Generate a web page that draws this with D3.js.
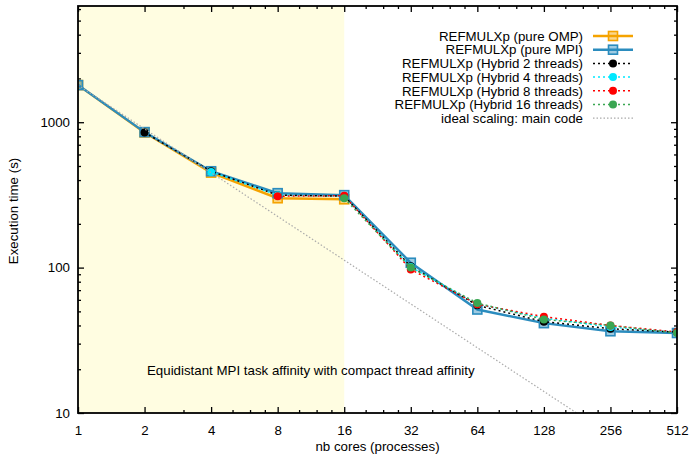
<!DOCTYPE html>
<html>
<head>
<meta charset="utf-8">
<script src="https://cdn.jsdelivr.net/npm/d3@7"></script>
<style>
  body { margin: 0; background: #fff; }
  text { font-family: "Liberation Sans", Arial, Helvetica, sans-serif; }
</style>
</head>
<body>
<div id="viz"></div>
<script>
// nb cores (processes)
var cores = [1, 2, 4, 8, 16, 32, 64, 128, 256, 512];
var xTickLabels = ['1', '2', '4', '8', '16', '32', '64', '128', '256', '512'];
var yTickValues = [10, 100, 1000];

// execution time (s)
var pureOMP   = [1800, 850, 450, 300, 295];
var pureMPI   = [1800, 855, 460, 325, 315, 108, 51.5, 41.5, 36.5, 35.5];
var hybrid2   = [850, 460, 315, 310, 102, 55, 42.5, 38, 36];      // from 2 cores
var hybrid4   = [455, 315, 310, 101, 56, 45, 39, 36];             // from 4 cores
var hybrid8   = [310, 312, 97, 56, 46, 40, 36];                   // from 8 cores
var hybrid16  = [300, 100, 57, 44, 40, 35.5];                     // from 16 cores
var idealBase = 1800;

var series = [
    { name: 'REFMULXp (pure OMP)', x: cores.slice(0, 5), y: pureOMP, color: '#f5a300', kind: 'square' },
    { name: 'REFMULXp (pure MPI)', x: cores, y: pureMPI, color: '#2b8cbe', kind: 'square' },
    { name: 'REFMULXp (Hybrid 2 threads)', x: cores.slice(1), y: hybrid2, color: '#000000', kind: 'dot' },
    { name: 'REFMULXp (Hybrid 4 threads)', x: cores.slice(2), y: hybrid4, color: '#00e8ff', kind: 'dot' },
    { name: 'REFMULXp (Hybrid 8 threads)', x: cores.slice(3), y: hybrid8, color: '#ff0000', kind: 'dot' },
    { name: 'REFMULXp (Hybrid 16 threads)', x: cores.slice(4), y: hybrid16, color: '#3aa652', kind: 'dot' },
    { name: 'ideal scaling: main code', x: cores, y: cores.map(function(c) { return idealBase / c }), color: '#aaaaaa', kind: 'ideal' }
];

var width = 693,
    height = 456,
    margin = { top: 6, right: 16, bottom: 43, left: 78 },
    plotW = width - margin.left - margin.right,
    plotH = height - margin.top - margin.bottom,
    fontSize = '13.3px';

var x = d3.scaleLog().base(2).domain([1, 512]).range([0, plotW]);
var y = d3.scaleLog().domain([10, 6300]).range([plotH, 0]);

var svg = d3.select('#viz').append('svg')
    .attr('width', width)
    .attr('height', height);

var g = svg.append('g')
    .attr('transform', 'translate(' + margin.left + ',' + margin.top + ')');

// shaded region 1..16 cores
g.append('rect')
    .attr('x', x(1))
    .attr('y', 0)
    .attr('width', x(16) - x(1))
    .attr('height', plotH)
    .attr('fill', '#fffde1');

// minor ticks
var xMinor = [];
cores.slice(0, -1).forEach(function(a) {
    var step = a >= 4 ? a / 4 : a / 2;
    if (a === 1) return;
    for (var v = a + step; v < 2 * a; v += step) xMinor.push(v);
});
var yMinor = [];
[10, 100, 1000].forEach(function(d) {
    for (var k = 2; k <= 9; k++) if (d * k < 6300) yMinor.push(d * k);
});

function axisGroup(axis, tx, ty) {
    var a = g.append('g')
        .attr('transform', 'translate(' + tx + ',' + ty + ')')
        .call(axis);
    a.select('.domain').remove();
    a.selectAll('line').attr('stroke', '#000').attr('stroke-width', 1.3);
    a.selectAll('text')
        .attr('fill', '#000')
        .style('font-size', fontSize);
    return a;
}

axisGroup(d3.axisBottom(x).tickValues(cores).tickFormat(function(d, i) { return xTickLabels[i] })
    .tickSize(-6).tickPadding(13), 0, plotH);
axisGroup(d3.axisBottom(x).tickValues(xMinor).tickFormat('').tickSize(-3), 0, plotH);
axisGroup(d3.axisTop(x).tickValues(cores).tickFormat('').tickSize(-6), 0, 0);
axisGroup(d3.axisTop(x).tickValues(xMinor).tickFormat('').tickSize(-3), 0, 0);

axisGroup(d3.axisLeft(y).tickValues(yTickValues).tickFormat(d3.format('d'))
    .tickSize(-6).tickPadding(8), 0, 0);
axisGroup(d3.axisLeft(y).tickValues(yMinor).tickFormat('').tickSize(-3), 0, 0);
axisGroup(d3.axisRight(y).tickValues(yTickValues).tickFormat('').tickSize(-6), plotW, 0);
axisGroup(d3.axisRight(y).tickValues(yMinor).tickFormat('').tickSize(-3), plotW, 0);

// annotation
g.append('text')
    .attr('x', 147 - margin.left)
    .attr('y', 375 - margin.top)
    .style('font-size', fontSize)
    .text('Equidistant MPI task affinity with compact thread affinity');

// series
var clip = svg.append('clipPath').attr('id', 'plotclip')
    .append('rect').attr('width', plotW).attr('height', plotH);

var line = d3.line()
    .x(function(d) { return x(d[0]) })
    .y(function(d) { return y(d[1]) });

function styleLine(sel, s) {
    sel.attr('fill', 'none').attr('stroke', s.color);
    if (s.kind === 'square') sel.attr('stroke-width', 2.4);
    else if (s.kind === 'dot') sel.attr('stroke-width', 1.5).attr('stroke-dasharray', '2,3');
    else sel.attr('stroke-width', 1.2).attr('stroke-dasharray', '1.5,2');
}

function drawMarker(sel, s, cx, cy) {
    if (s.kind === 'square') {
        sel.append('rect')
            .attr('x', cx - 4.5).attr('y', cy - 4.5)
            .attr('width', 9).attr('height', 9)
            .attr('fill', s.color).attr('fill-opacity', 0.45)
            .attr('stroke', s.color).attr('stroke-width', 1.6);
    } else if (s.kind === 'dot') {
        sel.append('circle')
            .attr('cx', cx).attr('cy', cy).attr('r', 4)
            .attr('fill', s.color);
    }
}

series.forEach(function(s) {
    var pts = s.x.map(function(c, i) { return [c, s.y[i]] });
    var sg = g.append('g').attr('clip-path', 'url(#plotclip)');
    sg.append('path').datum(pts).attr('d', line).call(styleLine, s);
    if (s.kind !== 'ideal') {
        pts.forEach(function(p) { drawMarker(sg, s, x(p[0]), y(p[1])) });
    }
});

// frame
g.append('rect')
    .attr('width', plotW)
    .attr('height', plotH)
    .attr('fill', 'none')
    .attr('stroke', '#000')
    .attr('stroke-width', 1.8);

// legend
var legend = g.append('g');
series.forEach(function(s, i) {
    var ly = 36 - margin.top + i * 13.7;
    legend.append('text')
        .attr('x', 583 - margin.left)
        .attr('y', ly + 4.7)
        .attr('text-anchor', 'end')
        .style('font-size', fontSize)
        .text(s.name);
    legend.append('line')
        .attr('x1', 593 - margin.left).attr('x2', 633 - margin.left)
        .attr('y1', ly).attr('y2', ly)
        .call(styleLine, s);
    drawMarker(legend, s, 613 - margin.left, ly);
});

// axis titles
svg.append('text')
    .attr('x', margin.left + plotW / 2)
    .attr('y', 451)
    .attr('text-anchor', 'middle')
    .style('font-size', fontSize)
    .text('nb cores (processes)');

svg.append('text')
    .attr('transform', 'translate(18,211) rotate(-90)')
    .attr('text-anchor', 'middle')
    .style('font-size', fontSize)
    .text('Execution time (s)');
</script>
</body>
</html>
